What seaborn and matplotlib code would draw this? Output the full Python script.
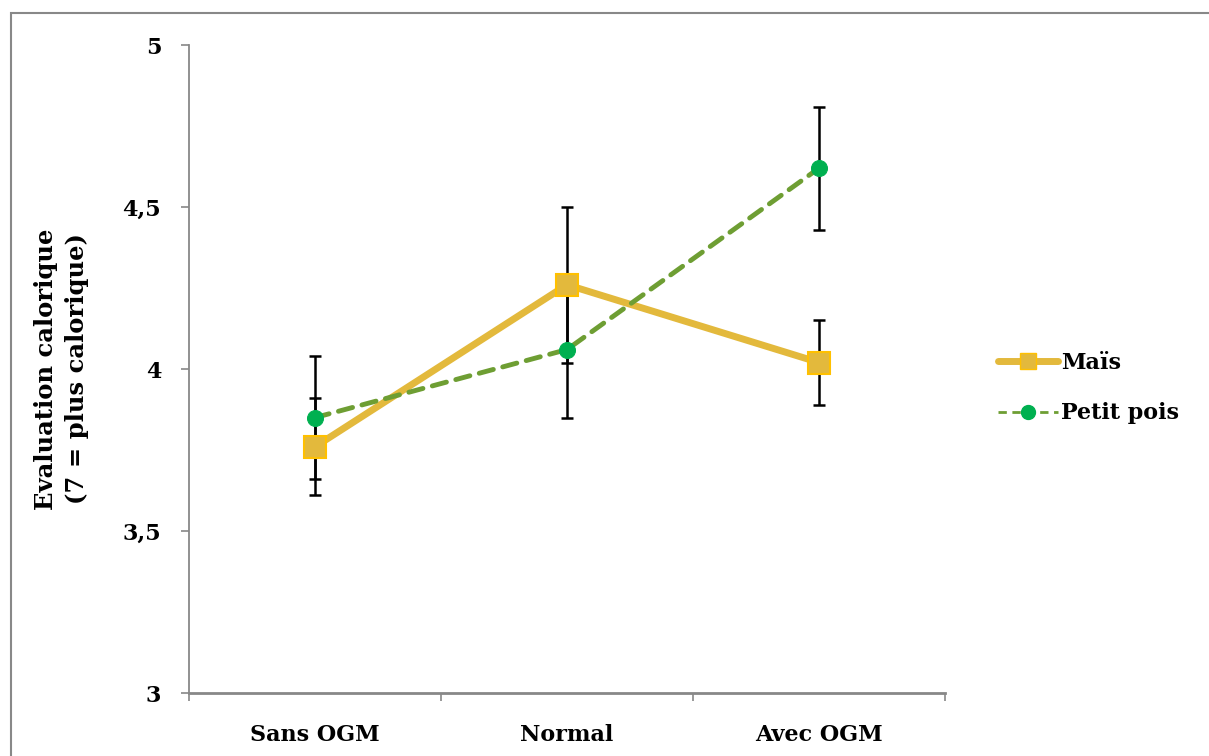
import pandas as pd
import numpy as np
import matplotlib.pyplot as plt
import seaborn as sns
from matplotlib.patches import Rectangle
from matplotlib.lines import Line2D

sns.set_style("white")
plt.rcParams['font.family'] = ['DejaVu Serif']
plt.rcParams['font.weight'] = 'bold'
plt.rcParams['text.color'] = 'black'
plt.rcParams['axes.labelcolor'] = 'black'
plt.rcParams['xtick.color'] = 'black'
plt.rcParams['ytick.color'] = 'black'

conditions = ["Sans OGM", "Normal", "Avec OGM"]
mais = [3.76, 4.26, 4.02]
mais_err = [0.15, 0.24, 0.13]
pois = [3.85, 4.06, 4.62]
pois_err = [0.19, 0.21, 0.19]

df = pd.DataFrame({
    "cond": conditions * 2,
    "val": mais + pois,
    "err": mais_err + pois_err,
    "serie": ["Maïs"] * 3 + ["Petit pois"] * 3,
})
df["pos"] = df["cond"].map({c: i for i, c in enumerate(conditions)})

gold = "#E3B93C"
gold_edge = "#FFC000"
green_line = "#6E9E33"
green_pt = "#00B050"

fig = plt.figure(figsize=(12.09, 7.56), dpi=100)
ax = fig.add_axes([189/1209, 1 - 693/756, (945-189)/1209, (693-45)/756])

# error bars first (behind markers)
for s in ["Maïs", "Petit pois"]:
    d = df[df["serie"] == s]
    ax.errorbar(d["pos"], d["val"], yerr=d["err"], fmt="none", ecolor="black",
                elinewidth=1.8, capsize=4.5, capthick=1.8, zorder=2)

m = df[df["serie"] == "Maïs"]
p = df[df["serie"] == "Petit pois"]
sns.lineplot(data=m, x="pos", y="val", ax=ax, color=gold, lw=5, marker="s",
             markersize=16, markerfacecolor=gold, markeredgecolor=gold_edge,
             markeredgewidth=1.5, zorder=3, solid_capstyle="round")
sns.lineplot(data=p, x="pos", y="val", ax=ax, color=green_line, lw=3.5,
             linestyle=(0, (3, 2)), dash_capstyle="round", marker="o",
             markersize=11.5, markerfacecolor=green_pt,
             markeredgecolor=green_pt, zorder=4)

ax.set_xlim(-0.5, 2.5)
ax.set_ylim(3, 5)
ax.set_yticks([3, 3.5, 4, 4.5, 5])
ax.set_yticklabels(["3", "3,5", "4", "4,5", "5"], fontsize=16, fontweight="bold")
ax.set_xticks([0, 1, 2])
ax.set_xticklabels(conditions, fontsize=16, fontweight="bold")
ax.set_xticks([-0.5, 0.5, 1.5, 2.5], minor=True)
ax.tick_params(axis="x", which="major", bottom=False, length=0, pad=22)
ax.tick_params(axis="x", which="minor", bottom=True, length=6, color="#888888",
               width=1.2, direction="out")
ax.tick_params(axis="y", left=True, length=6, color="#888888", width=1.2,
               direction="out", pad=14, labelcolor="black")
ax.tick_params(axis="x", labelcolor="black")
ax.set_xlabel("")
ax.set_ylabel("Evaluation calorique\n(7 = plus calorique)", fontsize=17.5,
              fontweight="bold", labelpad=24, linespacing=1.4, color="black")

for side in ["top", "right"]:
    ax.spines[side].set_visible(False)
ax.spines["left"].set_color("#888888")
ax.spines["left"].set_linewidth(1.3)
ax.spines["bottom"].set_color("#888888")
ax.spines["bottom"].set_linewidth(2)

handles = [
    Line2D([], [], color=gold, lw=5, marker="s", markersize=12,
           markerfacecolor=gold, markeredgecolor=gold_edge,
           solid_capstyle="round"),
    Line2D([], [], color=green_line, lw=2, linestyle=(0, (3, 2)), marker="o",
           markersize=10, markerfacecolor=green_pt, markeredgecolor=green_pt),
]
fig.legend(handles, ["Maïs", "Petit pois"], loc="center left",
           bbox_to_anchor=(978/1209, 1 - 388/756), frameon=False,
           prop={"size": 16, "weight": "bold"}, handlelength=2.7,
           handletextpad=0.15, labelspacing=1.3, labelcolor="black")

fig.patches.append(Rectangle((11/1209, -0.1), 1.2, 1 - 13/756 + 0.1,
                             transform=fig.transFigure, fill=False,
                             edgecolor="#888888", lw=1.5))

fig.savefig("out.png", dpi=100)
